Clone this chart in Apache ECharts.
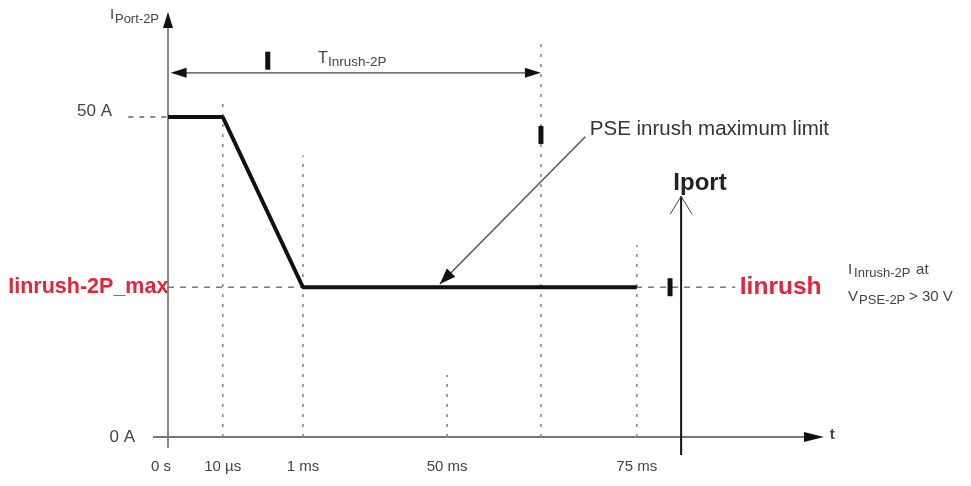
<!DOCTYPE html>
<html>
<head>
<meta charset="utf-8">
<script src="https://cdn.jsdelivr.net/npm/echarts@6/dist/echarts.min.js"></script>
<style>html,body{margin:0;padding:0;background:#fff}#c{width:971px;height:486px}</style>
</head>
<body>
<div id="c"></div>
<script>
// ---- data (schematic units; time axis is not to scale) ----
const xTickPos = [0, 8.4, 20.7, 42.8, 71.9];
const xTickLabels = ['0 s', '10 µs', '1 ms', '50 ms', '75 ms'];
const yTickValues = [0, 50];
const yTickLabels = ['0 A', '50 A'];
const limitX = [0, 8.4, 20.7, 71.9];
const limitY = [50, 50, 23.4, 23.4];
const inrushLevel = 23.4;
const tInrushEnd = 57.2;
const iportX = 78.7;
const guideX = [8.4, 20.7, 42.8, 71.9, 57.2];
const guideTop = [53.1, 44, 9.7, 30, 62.3];

const FONT = "'Liberation Sans', Arial, sans-serif";

function renderDecor(params, api) {
  const P = (x, y) => api.coord([x, y]);
  const ch = [];
  const line = (a, b, st) => ch.push({ type: 'line', shape: { x1: a[0], y1: a[1], x2: b[0], y2: b[1] }, style: Object.assign({ stroke: '#777', lineWidth: 1.5 }, st) });
  const head = (tip, from, len, w, fill) => {
    const dx = tip[0] - from[0], dy = tip[1] - from[1];
    const L = Math.hypot(dx, dy); const ux = dx / L, uy = dy / L; const nx = -uy, ny = ux;
    const bx = tip[0] - ux * len, by = tip[1] - uy * len;
    ch.push({ type: 'polygon', shape: { points: [[tip[0], tip[1]], [bx + nx * w, by + ny * w], [bx - nx * w, by - ny * w]] }, style: { fill: fill || '#111' } });
  };
  const bar = (c) => ch.push({ type: 'rect', shape: { x: c[0] - 2.5, y: c[1] - 9, width: 5, height: 18 }, style: { fill: '#111' } });
  const text = (p, s, st) => ch.push({ type: 'text', x: p[0], y: p[1], style: Object.assign({ text: s, font: '14px ' + FONT, fill: '#444', align: 'left', verticalAlign: 'middle' }, st) });

  // axes
  line(P(0, -1.7), P(0, 64), { stroke: '#888', lineWidth: 2 });
  head(P(0, 66.4), P(0, 60), 16, 5, '#111');
  line(P(-2.3, 0), P(98, 0), { stroke: '#777', lineWidth: 2 });
  head(P(100.6, 0), P(90, 0), 20, 5, '#111');

  // dashed guides
  guideX.forEach((gx, i) => line(P(gx, 0), P(gx, guideTop[i]), { stroke: '#888', lineWidth: 1.6, lineDash: [3, 7] }));
  line(P(-6.1, 50), P(0, 50), { stroke: '#666', lineWidth: 1.5, lineDash: [5, 6] });
  line(P(0, inrushLevel), P(87, inrushLevel), { stroke: '#777', lineWidth: 1.5, lineDash: [6, 6] });

  // T inrush double arrow
  const ty = 56.9;
  line(P(1.5, ty), P(tInrushEnd - 1.5, ty), { stroke: '#777', lineWidth: 1.8 });
  head(P(0.4, ty), P(10, ty), 16, 5, '#111');
  head(P(tInrushEnd, ty), P(40, ty), 16, 5, '#111');

  // markers
  bar(P(15.3, 58.8));
  bar(P(tInrushEnd, 47.2));
  bar(P(77, inrushLevel));

  // PSE pointer
  const a0 = P(64, 46.9), a1 = P(41.7, 23.9);
  line(a0, a1, { stroke: '#555', lineWidth: 1.5 });
  head(a1, a0, 16, 6, '#111');

  // Iport line with open chevron
  const ip = P(iportX, 37.6);
  line(ip, P(iportX, -2.8), { stroke: '#111', lineWidth: 2 });
  line(ip, [ip[0] - 11, ip[1] + 18], { stroke: '#444', lineWidth: 1 });
  line(ip, [ip[0] + 11, ip[1] + 18], { stroke: '#444', lineWidth: 1 });

  // texts
  let p = P(-8.9, 65.9);
  text(p, 'I', { font: '15px ' + FONT, fill: '#444' });
  text([p[0] + 5, p[1] + 4], 'Port-2P', { font: '13px ' + FONT, fill: '#444' });

  p = P(23.0, 59.2);
  text(p, 'T', { font: '16px ' + FONT, fill: '#444' });
  text([p[0] + 10, p[1] + 4], 'Inrush-2P', { font: '13.5px ' + FONT, fill: '#444' });

  text(P(64.7, 48.0), 'PSE inrush maximum limit', { font: '20.5px ' + FONT, fill: '#333' });
  text(P(81.6, 39.7), 'Iport', { font: 'bold 24px ' + FONT, fill: '#222', align: 'center' });
  text(P(87.7, inrushLevel), 'Iinrush', { font: 'bold 24.5px ' + FONT, fill: '#e3243b' });
  text(P(-24.5, inrushLevel), 'Iinrush-2P_max', { font: 'bold 21.5px ' + FONT, fill: '#e3243b' });

  p = P(104.3, 26.1);
  text(p, 'I', { font: '15px ' + FONT, fill: '#444' });
  text([p[0] + 6, p[1] + 3], 'Inrush-2P', { font: '13px ' + FONT, fill: '#444' });
  text([p[0] + 68, p[1]], 'at', { font: '15px ' + FONT, fill: '#444' });
  p = P(104.3, 21.9);
  text(p, 'V', { font: '15px ' + FONT, fill: '#444' });
  text([p[0] + 11, p[1] + 4], 'PSE-2P', { font: '13px ' + FONT, fill: '#444' });
  text([p[0] + 61, p[1]], '> 30 V', { font: '15px ' + FONT, fill: '#444' });

  text(P(101.5, 0.3), 't', { font: 'bold 15px ' + FONT, fill: '#444' });

  return { type: 'group', children: ch };
}

const chart = echarts.init(document.getElementById('c'), null, { renderer: 'canvas' });
chart.setOption({
  animation: false,
  backgroundColor: '#fff',
  grid: { left: 168, right: 151, top: 14.6, bottom: 49 },
  xAxis: {
    type: 'value', min: 0, max: 100,
    axisLine: { show: false }, axisTick: { show: false }, splitLine: { show: false },
    axisLabel: {
      customValues: xTickPos, margin: 22, fontSize: 15, color: '#444', fontFamily: FONT,
      formatter: v => { const i = xTickPos.findIndex(t => Math.abs(t - v) < 1e-6); return i === 0 ? '{a|' + xTickLabels[i] + '}' : (i >= 0 ? xTickLabels[i] : ''); },
      rich: { a: { padding: [0, 14, 0, 0], fontSize: 15, color: '#444', fontFamily: FONT } }
    }
  },
  yAxis: {
    type: 'value', min: 0, max: 66,
    axisLine: { show: false }, axisTick: { show: false }, splitLine: { show: false },
    axisLabel: {
      customValues: yTickValues, margin: 33, fontSize: 17, color: '#444', fontFamily: FONT,
      formatter: v => { const i = yTickValues.indexOf(v); return i === 1 ? '{f|' + yTickLabels[i] + '}' : '{z|' + yTickLabels[i] + '}'; },
      rich: { f: { padding: [0, 23, 12, 0], fontSize: 17, color: '#444', fontFamily: FONT }, z: { fontSize: 17, color: '#444', fontFamily: FONT } }
    }
  },
  series: [
    { type: 'custom', renderItem: renderDecor, data: [[0, 0]], silent: true, clip: false, z: 1 },
    {
      type: 'line', data: limitX.map((x, i) => [x, limitY[i]]), symbol: 'none', z: 5,
      lineStyle: { color: '#111', width: 4 }
    }
  ]
});
</script>
</body>
</html>
